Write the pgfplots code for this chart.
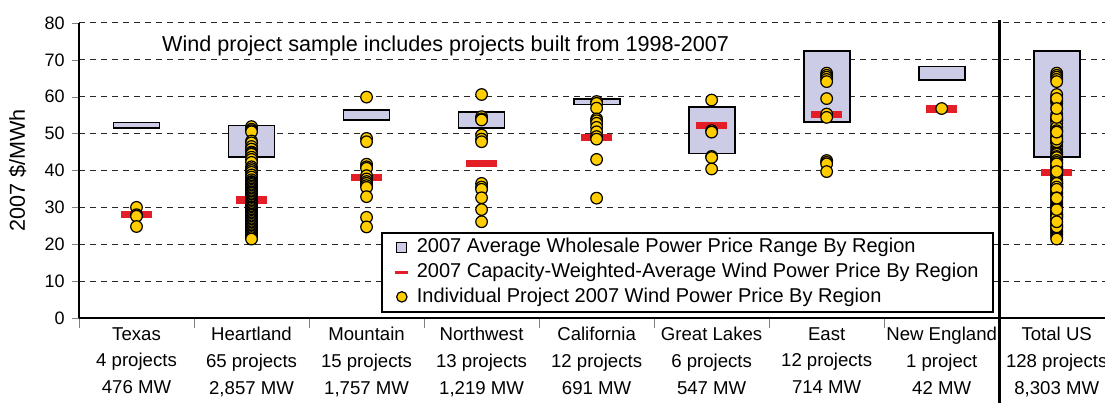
\documentclass[border=0pt]{standalone}
\usepackage{fontspec}
\setmainfont{Liberation Sans}
\usepackage{pgfplots}
\pgfplotsset{compat=1.18}
\usepackage{pgfplotstable}

\definecolor{boxfill}{RGB}{204,204,230}
\definecolor{avgred}{RGB}{228,30,38}
\definecolor{dotyellow}{RGB}{255,205,0}

% individual project prices (x = region index)
\pgfplotstableread{
x y
0 30.0
0 28.0
0 27.6
0 24.8
1 51.9
1 51.2
1 50.8
1 50.5
1 48.0
1 47.5
1 46.5
1 45.8
1 45.0
1 44.8
1 44.4
1 43.6
1 43.0
1 42.2
1 41.0
1 40.5
1 40.0
1 39.5
1 38.8
1 38.2
1 37.5
1 37.0
1 36.8
1 36.5
1 36.2
1 35.8
1 35.4
1 35.0
1 34.6
1 34.2
1 34.0
1 33.8
1 33.4
1 33.0
1 32.6
1 32.2
1 31.8
1 31.4
1 31.0
1 30.6
1 30.2
1 30.0
1 29.8
1 29.4
1 29.0
1 28.6
1 28.2
1 28.0
1 27.8
1 27.4
1 27.0
1 26.6
1 26.2
1 25.8
1 25.4
1 25.0
1 24.6
1 24.2
1 23.8
1 23.4
1 23.0
1 22.6
1 22.2
1 21.8
1 21.4
2 59.9
2 48.7
2 47.8
2 41.7
2 41.0
2 40.6
2 38.6
2 37.7
2 37.0
2 36.5
2 35.9
2 35.4
2 32.9
2 27.3
2 24.7
3 60.6
3 54.6
3 54.0
3 53.7
3 49.6
3 48.5
3 47.8
3 36.5
3 35.5
3 34.9
3 32.6
3 29.4
3 26.1
4 58.7
4 58.2
4 56.9
4 54.0
4 53.5
4 52.8
4 51.7
4 50.5
4 49.2
4 48.5
4 43.0
4 32.5
5 59.1
5 50.8
5 50.4
5 43.8
5 43.5
5 40.4
6 66.4
6 65.8
6 65.3
6 64.7
6 64.1
6 59.5
6 55.3
6 54.4
6 42.7
6 42.2
6 41.8
6 39.7
7 56.8
}\projects

% capacity-weighted average wind price
\pgfplotstableread{
x y
0 28.1
1 32.0
2 38.2
3 42.0
4 49.0
5 52.2
6 55.1
7 56.7
8 39.4
}\averages

\begin{document}
\begin{tikzpicture}
\begin{axis}[
    name=ax,
    scale only axis,
    width=513pt, height=147.5pt,
    xmin=-0.5, xmax=8.42,
    ymin=0, ymax=80,
    ytick={0,10,...,80},
    axis lines*=left,
    clip=false,
    tick align=outside,
    major tick length=3.5pt,
    minor tick length=5pt,
    xtick={0,...,8},
    minor xtick={-0.5,0.5,...,7.5},
    major x tick style={draw=none},
    xticklabels={
        {Texas\\4 projects\\476 MW},
        {Heartland\\65 projects\\2,857 MW},
        {Mountain\\15 projects\\1,757 MW},
        {Northwest\\13 projects\\1,219 MW},
        {California\\12 projects\\691 MW},
        {Great Lakes\\6 projects\\547 MW},
        {East\\12 projects\\714 MW},
        {New England\\1 project\\42 MW},
        {Total US\\128 projects\\8,303 MW}},
    xticklabel style={align=center, font=\fontsize{9.3}{13.4}\selectfont, yshift=2.5pt},
    yticklabel style={font=\fontsize{9}{10}\selectfont},
    /pgf/number format/assume math mode=true,
    every axis/.append style={line width=0.6pt},
    ymajorgrids,
    major grid style={black!85, line width=0.5pt, dash pattern=on 3pt off 2.5pt},
    ylabel={2007 \$/MWh},
    ylabel style={at={([xshift=-26pt]rel axis cs:0,0.5)}, anchor=south, inner sep=0pt,
        font=\fontsize{10.8}{12}\selectfont},
    legend style={at={(0.2943,0.2915)}, anchor=north west, draw=black, line width=0.9pt,
        font=\fontsize{10}{11}\selectfont, inner xsep=5pt, inner ysep=2pt,
        nodes={inner ysep=0.6pt, text height=7.4pt, text depth=2.2pt},
        row sep=1.5pt},
    legend cell align=left,
]
% wholesale price ranges
\addplot[fill=boxfill, draw=black, line width=0.9pt,
    legend image code/.code={\draw[fill=boxfill, draw=black, line width=0.5pt] (2.5pt,-2.5pt) rectangle (7.5pt,2.5pt); \path[draw=none, fill=none] (0pt,0pt) rectangle (10.5pt,0pt);}]
    coordinates {(-0.2,51.5) (0.2,51.5) (0.2,53.0) (-0.2,53.0)} -- cycle;
\addplot[fill=boxfill, draw=black, line width=0.9pt, forget plot]
    coordinates {(0.8,43.6) (1.2,43.6) (1.2,52.2) (0.8,52.2)} -- cycle;
\addplot[fill=boxfill, draw=black, line width=0.9pt, forget plot]
    coordinates {(1.8,53.7) (2.2,53.7) (2.2,56.3) (1.8,56.3)} -- cycle;
\addplot[fill=boxfill, draw=black, line width=0.9pt, forget plot]
    coordinates {(2.8,51.5) (3.2,51.5) (3.2,55.9) (2.8,55.9)} -- cycle;
\addplot[fill=boxfill, draw=black, line width=0.9pt, forget plot]
    coordinates {(3.8,57.9) (4.2,57.9) (4.2,59.4) (3.8,59.4)} -- cycle;
\addplot[fill=boxfill, draw=black, line width=0.9pt, forget plot]
    coordinates {(4.8,44.6) (5.2,44.6) (5.2,57.2) (4.8,57.2)} -- cycle;
\addplot[fill=boxfill, draw=black, line width=0.9pt, forget plot]
    coordinates {(5.8,53.2) (6.2,53.2) (6.2,72.5) (5.8,72.5)} -- cycle;
\addplot[fill=boxfill, draw=black, line width=0.9pt, forget plot]
    coordinates {(6.8,64.5) (7.2,64.5) (7.2,68.2) (6.8,68.2)} -- cycle;
\addplot[fill=boxfill, draw=black, line width=0.9pt, forget plot]
    coordinates {(7.8,43.6) (8.2,43.6) (8.2,72.5) (7.8,72.5)} -- cycle;
% capacity-weighted averages
\addplot[only marks, mark=-, mark size=7.75pt, mark options={draw=avgred, line width=3.6pt},
    legend image code/.code={\draw[draw=avgred, line width=1.4pt] (1.5pt,0pt) -- (8pt,0pt); \path[draw=none, fill=none] (0pt,0pt) rectangle (10.5pt,0pt);}]
    table[x=x, y=y]{\averages};
% individual projects
\addplot[only marks, mark=*, mark size=2.9pt, mark options={fill=dotyellow, draw=black, line width=0.6pt},
    legend image code/.code={\draw[fill=dotyellow, draw=black, line width=0.6pt] (5pt,0pt) circle (2.6pt); \path[draw=none, fill=none] (0pt,0pt) rectangle (10.5pt,0pt);}]
    table[x=x, y=y]{\projects};
\addplot[only marks, mark=*, mark size=2.9pt, mark options={fill=dotyellow, draw=black, line width=0.6pt}, forget plot]
    table[x expr=8, y=y]{\projects};
\legend{2007 Average Wholesale Power Price Range By Region,
    2007 Capacity-Weighted-Average Wind Power Price By Region,
    Individual Project 2007 Wind Power Price By Region}
\node[anchor=base, font=\fontsize{10.8}{12}\selectfont] at (axis cs:2.687,72.4)
    {Wind project sample includes projects built from 1998-2007};
\draw[line width=1.4pt] (axis cs:7.5,80.8) -- ([yshift=-46pt]axis cs:7.5,0);
\end{axis}
\pgfresetboundingbox
\path ([xshift=-39.5pt,yshift=-42.5pt]ax.south west) rectangle ([yshift=11.5pt]ax.north east);
\end{tikzpicture}
\end{document}
